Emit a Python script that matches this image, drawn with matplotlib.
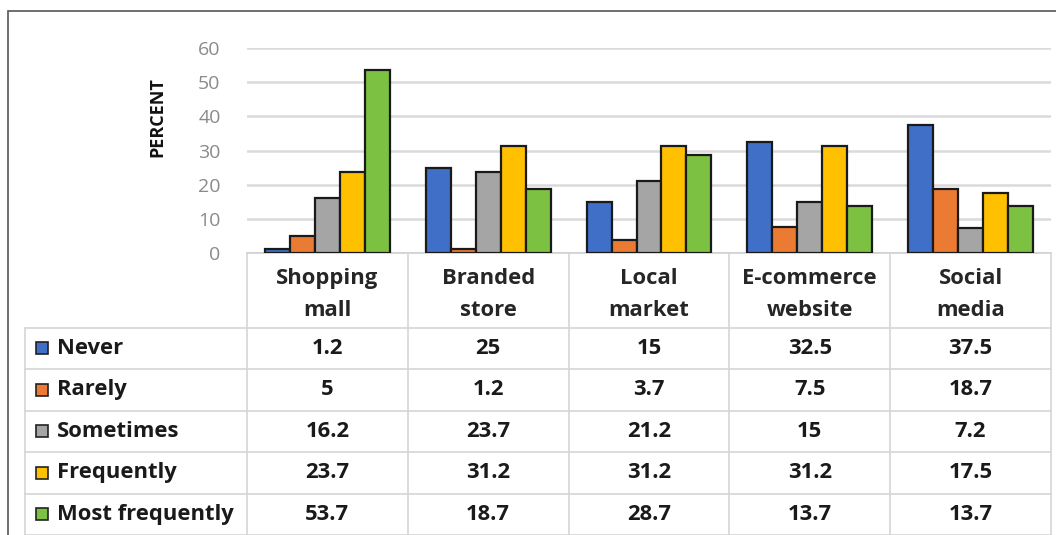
import matplotlib
matplotlib.use("Agg")
import matplotlib.pyplot as plt
from matplotlib.patches import Rectangle
import numpy as np

categories = ["Shopping\nmall", "Branded\nstore", "Local\nmarket", "E-commerce\nwebsite", "Social\nmedia"]
series_names = ["Never", "Rarely", "Sometimes", "Frequently", "Most frequently"]
never = [1.2, 25, 15, 32.5, 37.5]
rarely = [5, 1.2, 3.7, 7.5, 18.7]
sometimes = [16.2, 23.7, 21.2, 15, 7.2]
frequently = [23.7, 31.2, 31.2, 31.2, 17.5]
most_frequently = [53.7, 18.7, 28.7, 13.7, 13.7]
y_ticks = [0, 10, 20, 30, 40, 50, 60]
y_label = "PERCENT"

series = [never, rarely, sometimes, frequently, most_frequently]
colors = ["#3F6FC6", "#EB7A33", "#A5A5A5", "#FFC000", "#7CC142"]

FONT = "Open Sans"
TXT = 15.8
W, H = 1056, 535
fig = plt.figure(figsize=(W / 100, H / 100), dpi=100)

def px_rect(l, t, r, b):
    return [l / W, 1 - b / H, (r - l) / W, (b - t) / H]

# outer frame
fig.patches.append(Rectangle((8 / W, -0.1), 1.2, 1 - 11 / H + 0.1, transform=fig.transFigure,
                             fill=False, edgecolor="#555555", linewidth=1.2))

# bar chart
ax_l, ax_r, ax_t, ax_b = 247, 1051, 48, 253
ax = fig.add_axes(px_rect(ax_l, ax_t, ax_r, ax_b))
n = len(categories)
x = np.arange(n) + 0.5
bw = 0.155
for i, (vals, c) in enumerate(zip(series, colors)):
    ax.bar(x + (i - 2) * bw, vals, width=bw, color=c, edgecolor="#1a1a1a", linewidth=1.6, zorder=3)
ax.set_xlim(0, n)
ax.set_ylim(0, 60)
ax.set_yticks(y_ticks)
ax.set_yticklabels([str(t) for t in y_ticks], fontsize=14, color="#8a8a8a", fontfamily=FONT)
ax.tick_params(axis="y", length=0, pad=19)
ax.set_xticks([])
ax.yaxis.grid(True, color="#DADADA", linewidth=1.8, zorder=0)
for s in ["top", "right", "left"]:
    ax.spines[s].set_visible(False)
ax.spines["bottom"].set_color("#D0D0D0")
ax.spines["bottom"].set_linewidth(1.2)
ax.set_ylabel(y_label, fontsize=13, fontweight="bold", fontfamily=FONT, color="#111111")
ax.yaxis.label.set_horizontalalignment("center")
ax.yaxis.label.set_verticalalignment("center")
ax.yaxis.set_label_coords((157 - ax_l) / (ax_r - ax_l), (ax_b - 117) / (ax_b - ax_t))

# table
tab_l, tab_r, tab_t, tab_b = 25, 1051, 253, 535
unit_px = (ax_r - ax_l) / n
x_left = (tab_l - ax_l) / unit_px
tax = fig.add_axes(px_rect(tab_l, tab_t, tab_r, tab_b))
tax.set_xlim(x_left, n)
header_h = 1.8
nrows = len(series_names)
tax.set_ylim(nrows + header_h, 0)
tax.axis("off")
line_c = "#D5D5D5"
for k in range(n + 1):
    tax.plot([k, k], [0, nrows + header_h], color=line_c, lw=1.2, clip_on=False)
tax.plot([x_left, x_left], [header_h, nrows + header_h], color=line_c, lw=1.2, clip_on=False)
for r in range(nrows + 1):
    yy = header_h + r
    tax.plot([x_left, n], [yy, yy], color=line_c, lw=1.2, clip_on=False)
for k, cat in enumerate(categories):
    tax.text(k + 0.5, header_h / 2 + 0.1, cat, ha="center", va="center", fontsize=TXT,
             fontweight="bold", fontfamily=FONT, color="#262626", linespacing=1.65)
for r, (name, vals, c) in enumerate(zip(series_names, series, colors)):
    yc = header_h + r + 0.5
    key_w = 12 / unit_px
    kx = x_left + 11 / unit_px
    tax.add_patch(Rectangle((kx, yc - 0.15), key_w, 0.29, facecolor=c, edgecolor="#222222", lw=1.2))
    tax.text(kx + key_w + 9 / unit_px, yc, name, ha="left", va="center", fontsize=TXT,
             fontweight="bold", fontfamily=FONT, color="#1a1a1a")
    for k, v in enumerate(vals):
        tax.text(k + 0.5, yc, f"{v:g}", ha="center", va="center", fontsize=TXT,
                 fontweight="bold", fontfamily=FONT, color="#1a1a1a")

fig.savefig("out.png", dpi=100)
